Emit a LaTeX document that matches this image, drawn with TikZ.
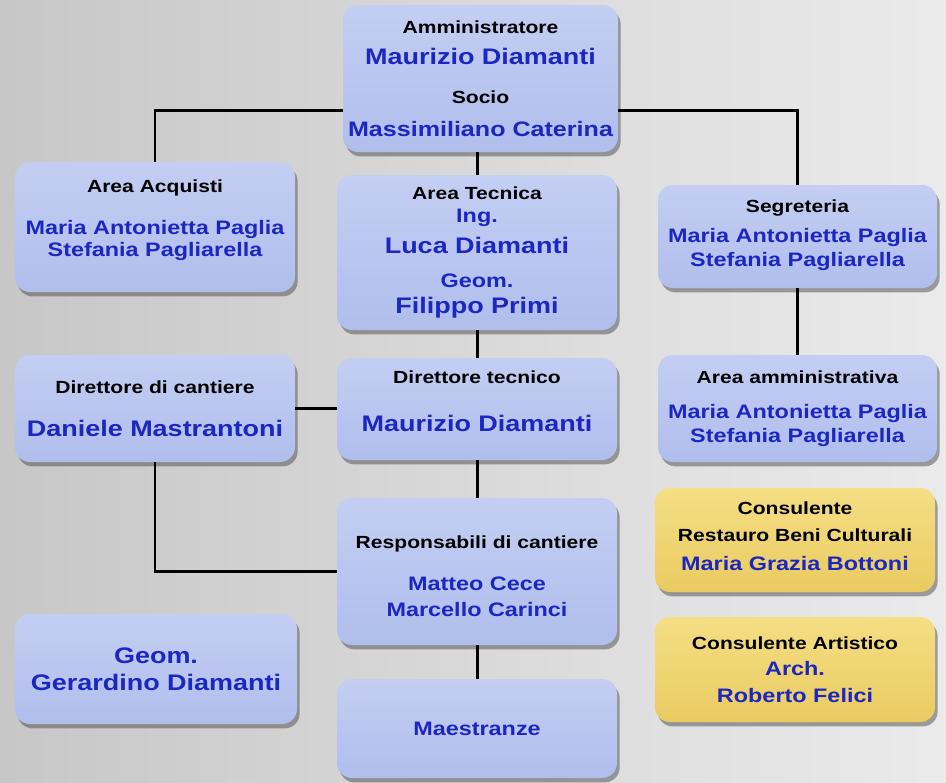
\documentclass[tikz,border=0pt]{standalone}
\usepackage{fontspec}
\setmainfont{Liberation Sans}[FakeStretch=1.2]
\usetikzlibrary{shadows}
\usetikzlibrary{calc}

\definecolor{bluetop}{RGB}{196,206,243}
\definecolor{bluebot}{RGB}{176,190,236}
\definecolor{yellowtop}{RGB}{245,222,132}
\definecolor{yellowbot}{RGB}{233,203,96}
\definecolor{nameblue}{RGB}{28,38,192}

\newcommand{\ttl}[1]{{\fontsize{10}{13}\selectfont\color{black}#1}}
\newcommand{\nmb}[1]{{\fontsize{12.8}{13}\selectfont\color{nameblue}#1}}
\newcommand{\nms}[1]{{\fontsize{11.1}{13}\selectfont\color{nameblue}#1}}
\newcommand{\dnstrut}[1]{\rule[-#1]{0pt}{#1}}
\newcommand{\upstrut}[1]{\rule{0pt}{#1}}

\tikzset{
  orgbox/.style={rectangle, rounded corners=0.3cm, inner sep=0pt, align=center,
    font=\fontsize{10}{13}\selectfont\bfseries, minimum width=5.6cm,
    top color=bluetop, bottom color=bluebot,
    drop shadow={shadow xshift=1.5pt, shadow yshift=-2.5pt, opacity=.5, fill=black!70}},
  consbox/.style={orgbox, top color=yellowtop, bottom color=yellowbot},
  conn/.style={line width=1.7pt, black}
}

\begin{document}
\begin{tikzpicture}
        \shade[left color=black!22, right color=black!8] (0,0) rectangle (18.92,-15.64);
        \useasboundingbox (0,0) rectangle (18.92,-15.64);

        \node[orgbox, minimum width=5.5cm, minimum height=2.94cm] (admin) at (9.61,-1.57)
        {\ttl{Amministratore}\\[4.9pt] \nmb{Maurizio Diamanti}\\[8.8pt] \ttl{Socio}\\[5.9pt]
         {\fontsize{11.9}{13}\selectfont\color{nameblue}Massimiliano Caterina}};
        \node[orgbox, minimum height=2.6cm] (acquisti) at (3.10,-4.54)
        {\ttl{Area Acquisti}\\[11pt] \nms{Maria Antonietta Paglia}\\[-0.7pt] \nms{Stefania Pagliarella}\dnstrut{10pt}};
        \node[orgbox, minimum height=3.1cm] (tecnica) at (9.54,-5.05)
        {\ttl{Area Tecnica}\\[0.2pt] \nms{Ing.}\\[4.6pt] \nmb{Luca Diamanti}\\[6.3pt] \nms{Geom.}\\[2.1pt] \nmb{Filippo Primi}};
        \node[orgbox, minimum width=5.58cm, minimum height=2.06cm] (segreteria) at (15.95,-4.73)
        {\ttl{Segreteria}\\[4pt] \nms{Maria Antonietta Paglia}\\[0.5pt] \nms{Stefania Pagliarella}\dnstrut{4pt}};
        \node[orgbox, minimum width=5.58cm, minimum height=2.14cm] (amministrativa) at (15.95,-8.17)
        {\ttl{Area amministrativa}\\[7.2pt] \nms{Maria Antonietta Paglia}\\[0.2pt] \nms{Stefania Pagliarella}};
        \node[orgbox, minimum height=2.14cm] (dircantiere) at (3.10,-8.17)
        {\ttl{Direttore di cantiere}\\[11.2pt] \nmb{Daniele Mastrantoni}};
        \node[orgbox, minimum height=2.04cm] (dirtecnico) at (9.54,-8.18)
        {\ttl{Direttore tecnico}\\[14.4pt] \nmb{Maurizio Diamanti}\dnstrut{9pt}};
        \node[orgbox, minimum height=2.94cm] (responsabili) at (9.54,-11.43)
        {\upstrut{13pt}\ttl{Responsabili di cantiere}\\[10.6pt] \nms{Matteo Cece}\\[2.1pt] \nms{Marcello Carinci}};
        \node[consbox, minimum height=2.08cm] (restauro) at (15.9,-10.8)
        {\ttl{Consulente}\\[2.1pt] \ttl{Restauro Beni Culturali}\\[3.4pt] \nms{Maria Grazia Bottoni}\dnstrut{4.5pt}};
        \node[consbox, minimum height=2.1cm] (artistico) at (15.9,-13.39)
        {\ttl{Consulente Artistico}\\[2.1pt] \nms{Arch.}\\[2.1pt] \nms{Roberto Felici}};
        \node[orgbox, minimum width=5.64cm, minimum height=2.2cm] (gerardino) at (3.12,-13.38)
        {\nmb{Geom.}\\[2.1pt] \nmb{Gerardino Diamanti}};
        \node[orgbox, minimum height=1.98cm] (maestranze) at (9.54,-14.57)
        {\nms{Maestranze}};

        \draw[conn] ([yshift=-0.63cm]admin.west) -| (acquisti.north);
        \draw[conn] ([yshift=-0.63cm]admin.east) -| (segreteria.north);
        \draw[conn] (tecnica.north) -- (tecnica.north |- admin.south);
        \draw[conn] (tecnica) -- (dirtecnico);
        \draw[conn] (dirtecnico) -- (responsabili);
        \draw[conn] (responsabili) -- (maestranze);
        \draw[conn] (segreteria) -- (amministrativa);
        \draw[conn] (dircantiere.east) -- (dirtecnico.west |- dircantiere.east);
        \draw[conn] (dircantiere.south) |- (responsabili.west);
    \end{tikzpicture}
\end{document}
